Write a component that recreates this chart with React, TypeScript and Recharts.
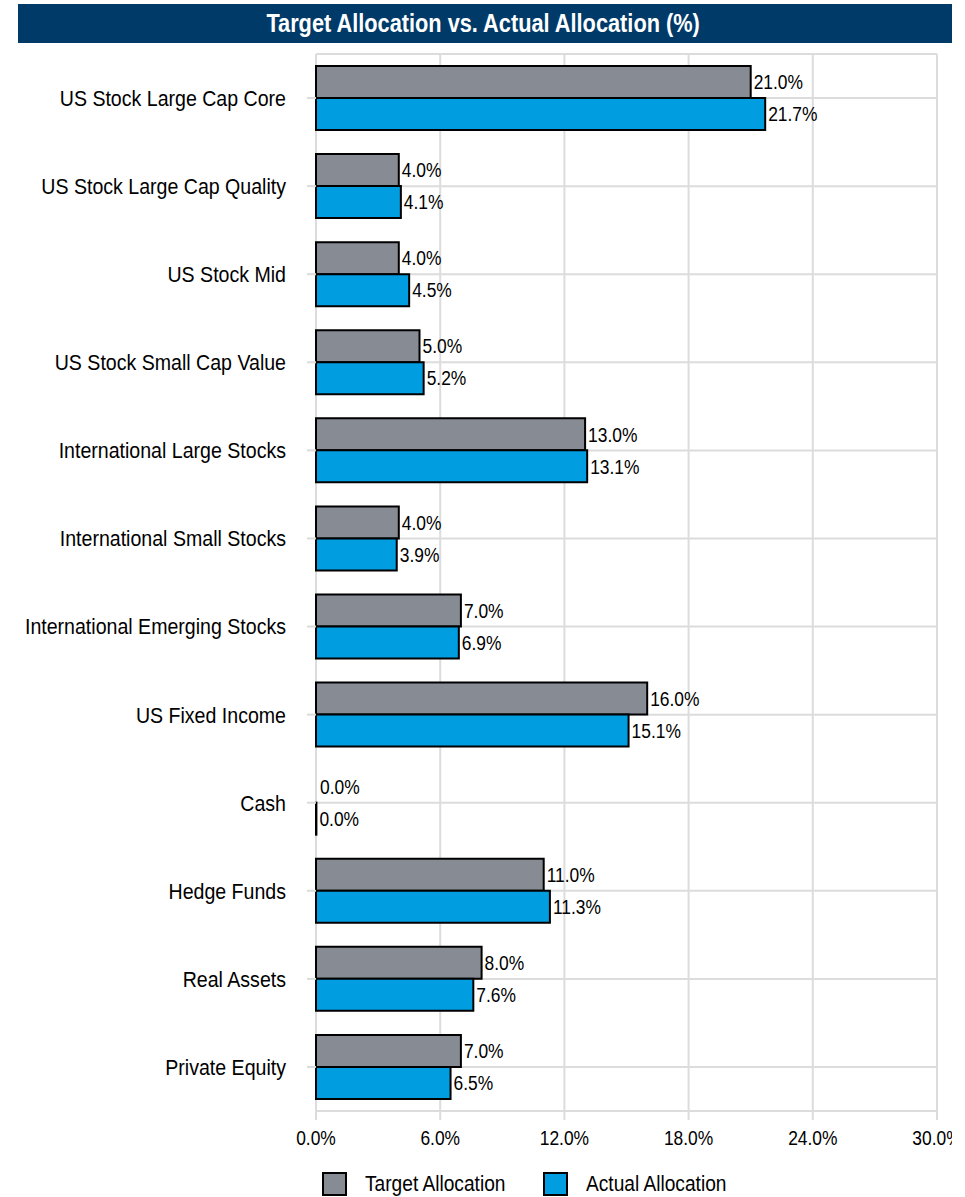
import React from 'react';
import { BarChart, Bar, XAxis, YAxis, CartesianGrid, LabelList, Legend, Cell } from 'recharts';

const categories = [
  'US Stock Large Cap Core',
  'US Stock Large Cap Quality',
  'US Stock Mid',
  'US Stock Small Cap Value',
  'International Large Stocks',
  'International Small Stocks',
  'International Emerging Stocks',
  'US Fixed Income',
  'Cash',
  'Hedge Funds',
  'Real Assets',
  'Private Equity',
];
const targetAllocation = [21.0, 4.0, 4.0, 5.0, 13.0, 4.0, 7.0, 16.0, 0.0, 11.0, 8.0, 7.0];
const actualAllocation = [21.7, 4.1, 4.5, 5.2, 13.1, 3.9, 6.9, 15.1, 0.02, 11.3, 7.6, 6.5];
const xTicks = [0, 6, 12, 18, 24, 30];

const FONT = '"Liberation Sans", Arial, sans-serif';
const GRAY = '#878c94';
const BLUE = '#009ee0';
const NAVY = '#003a68';
const GRID = '#dcdcdc';
const SQUEEZE = 0.87; // no narrow font installed, so squash text horizontally

const data = categories.map((name, i) => ({
  name,
  target: targetAllocation[i],
  actual: actualAllocation[i],
}));

const pct = (v: any) => `${Number(v).toFixed(1)}%`;

const YTick = (props: any) => {
  const { x, y, payload } = props;
  return (
    <text
      transform={`translate(${x},${y}) scale(0.89,1)`}
      textAnchor="end"
      dy="0.36em"
      fill="#000"
      fontSize={22}
      fontFamily={FONT}
    >
      {payload.value}
    </text>
  );
};

const XTick = (props: any) => {
  const { x, y, payload } = props;
  return (
    <text
      transform={`translate(${x},${y}) scale(${SQUEEZE},1)`}
      textAnchor="middle"
      dy="0.72em"
      fill="#000"
      fontSize={20}
      fontFamily={FONT}
    >
      {pct(payload.value)}
    </text>
  );
};

const ValueLabel = (props: any) => {
  const { x, y, width, height, value } = props;
  const tx = Number(x) + Number(width) + 3;
  const ty = Number(y) + Number(height) / 2;
  return (
    <text
      transform={`translate(${tx},${ty}) scale(${SQUEEZE},1)`}
      textAnchor="start"
      dy="0.36em"
      fill="#000"
      fontSize={20}
      fontFamily={FONT}
    >
      {pct(value)}
    </text>
  );
};

const renderLegend = () => (
  <div style={{ display: 'flex', paddingLeft: 322, fontFamily: FONT, fontSize: 22, lineHeight: '24px' }}>
    {[
      { label: 'Target Allocation', color: GRAY },
      { label: 'Actual Allocation', color: BLUE },
    ].map((item, i) => (
      <div key={item.label} style={{ display: 'flex', alignItems: 'center', width: i === 0 ? 221 : 240 }}>
        <div style={{ width: 21, height: 20, background: item.color, border: '2px solid #000', marginRight: 18, flex: 'none' }} />
        <span style={{ display: 'inline-block', transform: `scaleX(${SQUEEZE})`, transformOrigin: 'left center', whiteSpace: 'nowrap' }}>
          {item.label}
        </span>
      </div>
    ))}
  </div>
);

const App = () => {
  return (
    <div style={{ position: 'absolute', left: 0, top: 0, width: 965, height: 1197, background: '#fff', overflow: 'hidden' }}>
      <div
        style={{
          position: 'absolute', left: 18, top: 4, width: 934, height: 39, background: NAVY, color: '#fff',
          fontFamily: FONT, fontWeight: 'bold', fontSize: 25, display: 'flex', alignItems: 'center', justifyContent: 'center',
        }}
      >
        <span style={{ display: 'inline-block', transform: `scaleX(${SQUEEZE})`, whiteSpace: 'nowrap', marginLeft: -4 }}>
          Target Allocation vs. Actual Allocation (%)
        </span>
      </div>
      <div style={{ position: 'absolute', left: 0, top: 0, width: 952, height: 1197, overflow: 'hidden' }}>
        <BarChart
          width={965}
          height={1197}
          data={data}
          layout="vertical"
          margin={{ top: 54, right: 28, bottom: 46, left: 0 }}
          barCategoryGap={12}
          barGap={0}
        >
          <CartesianGrid stroke={GRID} strokeWidth={2} />
          <XAxis
            type="number"
            domain={[0, 30]}
            ticks={xTicks}
            axisLine={{ stroke: GRID, strokeWidth: 2 }}
            tickLine={{ stroke: GRID, strokeWidth: 2 }}
            tickSize={9}
            tickMargin={11}
            height={40}
            tick={<XTick />}
          />
          <YAxis
            type="category"
            dataKey="name"
            width={316}
            axisLine={false}
            tickLine={{ stroke: GRID, strokeWidth: 2 }}
            tickSize={9}
            tickMargin={21}
            interval={0}
            tick={<YTick />}
          />
          <Legend
            layout="horizontal"
            verticalAlign="middle"
            content={renderLegend}
            wrapperStyle={{ top: 1172, left: 0, width: 965 }}
          />
          <Bar dataKey="target" name="Target Allocation" fill={GRAY} stroke="#000" strokeWidth={2} minPointSize={1} isAnimationActive={false}>
            {targetAllocation.map((v, i) => (
              <Cell key={i} fill={v === 0 ? 'none' : GRAY} stroke={v === 0 ? 'none' : '#000'} />
            ))}
            <LabelList dataKey="target" content={<ValueLabel />} />
          </Bar>
          <Bar dataKey="actual" name="Actual Allocation" fill={BLUE} stroke="#000" strokeWidth={2} isAnimationActive={false}>
            <LabelList dataKey="actual" content={<ValueLabel />} />
          </Bar>
        </BarChart>
      </div>
    </div>
  );
};

export default App;
